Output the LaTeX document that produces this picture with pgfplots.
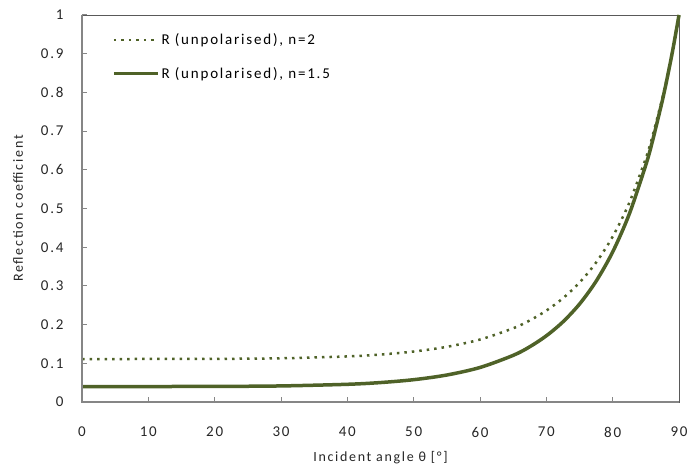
\documentclass[border=0pt]{standalone}
\usepackage{fontspec}
\setmainfont{Carlito}[LetterSpace=12]
\usepackage{pgfplots}
\pgfplotsset{compat=1.18}
\definecolor{olive}{HTML}{4F6228}
\definecolor{axgray}{HTML}{868686}
\definecolor{boxgray}{HTML}{595959}
\begin{document}
\begin{tikzpicture}
\begin{axis}[
  scale only axis,
  width=597pt, height=387pt,
  xmin=0, xmax=90, ymin=0, ymax=1,
  xtick={0,10,...,90},
  ytick={0,0.1,...,1},
  tick align=inside,
  xtick pos=bottom, ytick pos=left,
  major tick length=5pt,
  tick style={axgray, line width=1pt},
  axis line style={boxgray, line width=0.8pt},
  /pgf/number format/assume math mode=true,
  yticklabel={\pgfmathprintnumber[fixed,precision=1]{\tick}},
  ticklabel style={font=\fontsize{15}{17}\selectfont, color=black!85},
  xticklabel style={anchor=center, yshift=-30pt},
  yticklabel style={anchor=east, xshift=-15pt},
  xlabel={Incident angle θ [°]},
  ylabel={Reflection coefficient},
  label style={font=\fontsize{14}{16}\selectfont, color=black!85},
  xlabel style={at={([yshift=-56pt]rel axis cs:0.5,0)}, anchor=center},
  ylabel style={at={([xshift=-64pt]rel axis cs:0,0.5)}, anchor=center},
  legend cell align=left,
  legend style={draw=none, fill=none, at={(0.045,0.962)}, anchor=north west,
    font=\fontsize{15}{17}\selectfont, row sep=17pt},
  legend image code/.code={\draw[#1] (0pt,0pt) -- (44pt,0pt);},
  clip=false,
]
\addplot[olive, line width=2.5pt, dash pattern=on 2.5pt off 5pt, smooth] coordinates {
(0,0.11111) (10,0.11114) (20,0.11145) (30,0.11295) (40,0.11775) (45,0.12265)
(50,0.13042) (55,0.14256) (60,0.16138) (65,0.19054) (67.5,0.21078) (70,0.23615)
(72.5,0.26811) (75,0.30865) (77.5,0.36046) (80,0.42730) (82.5,0.51457)
(85,0.63013) (86,0.68678) (87.5,0.78585) (88,0.82326) (89,0.90578) (90,1)};
\addlegendentry{R (unpolarised), n=2}
\addplot[olive, line width=3.5pt, smooth] coordinates {
(0,0.04) (10,0.04002) (20,0.04027) (30,0.04152) (40,0.04574) (45,0.05024)
(50,0.05766) (55,0.06973) (60,0.08919) (65,0.12051) (67.5,0.14276) (70,0.17104)
(72.5,0.20706) (75,0.25306) (77.5,0.31197) (80,0.38770) (82.5,0.48556)
(85,0.61279) (86,0.67406) (87.5,0.77949) (88,0.81874) (89,0.90418) (90,1)};
\addlegendentry{R (unpolarised), n=1.5}
\draw[axgray, line width=2pt] (rel axis cs:0,1) -- (rel axis cs:0,0) -- (rel axis cs:1,0);
\end{axis}
\pgfresetboundingbox
\useasboundingbox ([xshift=-82pt,yshift=-69pt]current axis.south west) rectangle ([xshift=10pt,yshift=15pt]current axis.north east);
\end{tikzpicture}
\end{document}
